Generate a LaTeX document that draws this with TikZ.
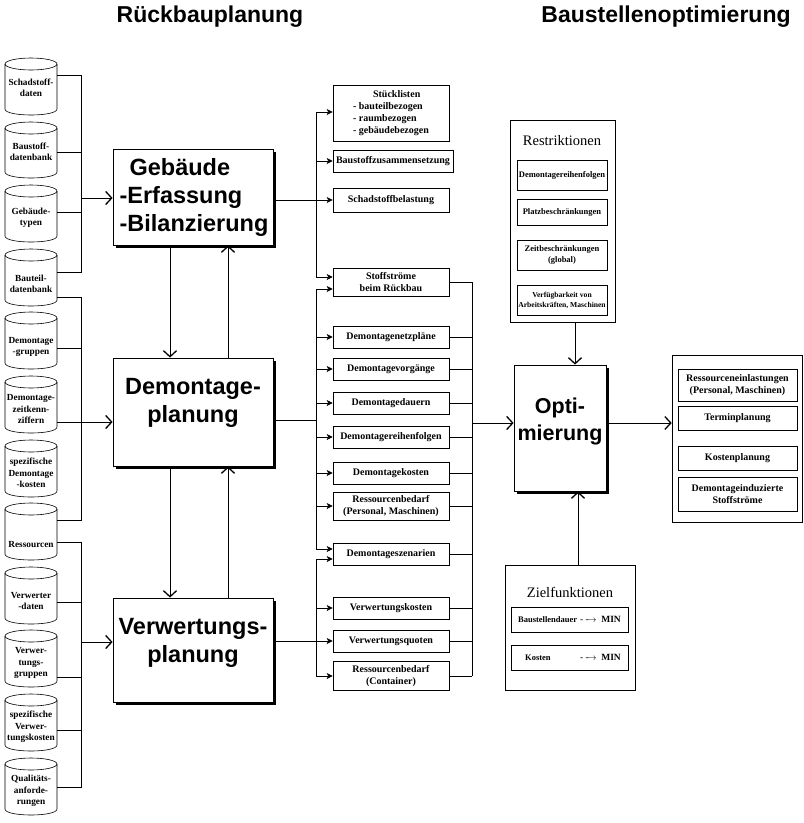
\documentclass[tikz,border=0pt]{standalone}
\usepackage{fontspec}
\setmainfont{Liberation Serif}
\newfontfamily\arialf{Liberation Sans}
\usetikzlibrary{arrows.meta,shadows}
\newcommand\dbcyl[5]{%
  \draw[cylst] (5,#2+6) -- (5,#3-6) .. controls (5,#3+2) and (57,#3+2) .. (57,#3-6) -- (57,#2+6);
  \draw[cylst] (31,#2+6) ellipse [x radius=26, y radius=6];
  \node[cyltext] (#1) at (31,#5) {#4};
}
\begin{document}
\begin{tikzpicture}[x=1pt,y=-1pt,
  ln/.style={line width=0.6pt},
  cylst/.style={line width=0.6pt},
  big/.style={line width=0.6pt,-{Straight Barb[length=6pt,width=13pt,line width=1.3pt]}},
  sm/.style={line width=0.6pt,-{Stealth[length=6pt,width=6pt,inset=1.5pt]}},
  title/.style={font=\arialf\bfseries\fontsize{23}{26}\selectfont},
  mainbox/.style={draw,fill=white,line width=0.8pt,drop shadow={shadow xshift=3pt,shadow yshift=-3pt,fill=black,opacity=1}},
  maintext/.style={font=\arialf\bfseries\fontsize{23.5}{28}\selectfont,inner sep=0pt,align=center},
  cyltext/.style={minimum width=52pt,inner sep=0pt,align=center,font=\bfseries\fontsize{9.3}{11.5}\selectfont},
  midbox/.style={draw,line width=0.6pt,fill=white,minimum width=116pt,minimum height=22pt,inner sep=1pt,align=center,font=\bfseries\fontsize{10}{12}\selectfont},
  outbox/.style={draw,line width=0.6pt},
  grouptitle/.style={font=\fontsize{14.5}{16}\selectfont},
  rbox/.style={draw,line width=0.6pt,minimum width=90pt,inner sep=1pt,align=center,font=\bfseries\fontsize{8.5}{10.5}\selectfont},
  zbox/.style={draw,line width=0.6pt,minimum width=117pt,minimum height=25pt,inner sep=1pt,align=left},
  obox/.style={draw,line width=0.6pt,minimum width=119pt,inner sep=1pt,align=center,font=\bfseries\fontsize{10}{12}\selectfont}
]
\useasboundingbox (0,0) rectangle (804,823);
\fill[white] (0,0) rectangle (804,823);

% titles
\node[title] (t1) at (210,17) {Rückbauplanung};
\node[title] (t2) at (666,17) {Baustellenoptimierung};

% cylinders
\dbcyl{c1}{58}{115}{Schadstoff-\\daten}{88}
\dbcyl{c2}{122}{178}{Baustoff-\\datenbank}{152}
\dbcyl{c3}{185}{242}{Gebäude-\\typen}{218}
\dbcyl{c4}{249}{306}{Bauteil-\\datenbank}{284}
\dbcyl{c5}{312}{369}{Demontage\\-gruppen}{347}
\dbcyl{c6}{376}{433}{Demontage-\\zeitkenn-\\ziffern}{409}
\dbcyl{c7}{440}{497}{spezifische\\Demontage\\-kosten}{473}
\dbcyl{c8}{503}{560}{Ressourcen}{545}
\dbcyl{c9}{567}{624}{Verwerter\\-daten}{601}
\dbcyl{c10}{630}{687}{Verwer-\\tungs-\\gruppen}{663}
\dbcyl{c11}{694}{751}{spezifische\\Verwer-\\tungskosten}{727}
\dbcyl{c12}{758}{815}{Qualitäts-\\anforde-\\rungen}{791}

% main boxes
\node[mainbox,minimum width=160pt,minimum height=96pt] (geb) at (193,197) {};
\node[maintext,align=left] (gebt) at (194,197) {\hspace*{10pt}Gebäude\\-Erfassung\\-Bilanzierung};
\node[mainbox,minimum width=160pt,minimum height=108pt] (dem) at (193,412) {};
\node[maintext] (demt) at (193,403) {Demontage-\\planung};
\node[mainbox,minimum width=160pt,minimum height=104pt] (ver) at (193,650) {};
\node[maintext] (vert) at (193,643) {Verwertungs-\\planung};

% left buses
\coordinate (g1a) at (81,75);
\coordinate (g1b) at (81,152);
\coordinate (g1x) at (81,198);
\coordinate (g1c) at (81,212);
\coordinate (g1d) at (81,272);
\draw[ln] (c1.east|-g1a) -- (g1a) -- (g1d) -- (c4.east|-g1d);
\draw[ln] (c2.east|-g1b) -- (g1b);
\draw[ln] (c3.east|-g1c) -- (g1c);
\draw[big] (g1x) -- (geb.west|-g1x);

\coordinate (g2a) at (81,297);
\coordinate (g2b) at (81,348);
\coordinate (g2x) at (81,422);
\coordinate (g2d) at (81,520);
\draw[ln] (c4.east|-g2a) -- (g2a) -- (g2d) -- (c8.east|-g2d);
\draw[ln] (c5.east|-g2b) -- (g2b);
\draw[big] (c6.east|-g2x) -- (dem.west|-g2x);

\coordinate (g3a) at (81,542);
\coordinate (g3b) at (81,602);
\coordinate (g3x) at (81,642);
\coordinate (g3c) at (81,677);
\coordinate (g3d) at (81,730);
\coordinate (g3e) at (81,787);
\draw[ln] (c8.east|-g3a) -- (g3a) -- (g3e) -- (c12.east|-g3e);
\draw[ln] (c9.east|-g3b) -- (g3b);
\draw[ln] (c10.east|-g3c) -- (g3c);
\draw[ln] (c11.east|-g3d) -- (g3d);
\draw[big] (g3x) -- (ver.west|-g3x);

% vertical arrows between main boxes
\coordinate (vx1) at (170,0);
\coordinate (vx2) at (228,0);
\draw[big] (geb.south-|vx1) -- (dem.north-|vx1);
\draw[big] (dem.north-|vx2) -- (geb.south-|vx2);
\draw[big] (dem.south-|vx1) -- (ver.north-|vx1);
\draw[big] (ver.north-|vx2) -- (dem.south-|vx2);

% middle result boxes
\node[midbox,minimum height=56pt,align=left] (stk) at (391,113) {\hspace*{20pt}Stücklisten\\- bauteilbezogen\\- raumbezogen\\- gebäudebezogen};
\node[midbox,minimum width=120pt] (bsz) at (393,161) {Baustoffzusammensetzung};
\node[midbox,minimum height=24pt] (sdb) at (391,200) {Schadstoffbelastung};
\node[midbox,minimum height=28pt] (sts) at (391,282) {Stoffströme\\beim Rückbau};
\node[midbox] (dnp) at (391,337) {Demontagenetzpläne};
\node[midbox] (dvg) at (391,369) {Demontagevorgänge};
\node[midbox] (ddn) at (391,403) {Demontagedauern};
\node[midbox] (drf) at (391,437) {Demontagereihenfolgen};
\node[midbox] (dko) at (391,473) {Demontagekosten};
\node[midbox,minimum height=28pt] (rbp) at (391,506) {Ressourcenbedarf\\(Personal, Maschinen)};
\node[midbox] (dsz) at (391,554) {Demontageszenarien};
\node[midbox] (vko) at (391,608) {Verwertungskosten};
\node[midbox] (vqu) at (391,641) {Verwertungsquoten};
\node[midbox,minimum height=29pt] (rbc) at (391,676) {Ressourcenbedarf\\(Container)};

% group A
\coordinate (pA1) at (316,112);
\coordinate (pA4) at (316,277);
\draw[ln] (pA1) -- (pA4);
\draw[sm] (pA1) -- (stk.west|-pA1);
\draw[sm] (pA1|-bsz.west) -- (bsz.west);
\draw[sm] (geb.east|-sdb.west) -- (sdb.west);
\draw[sm] (pA4) -- (sts.west|-pA4);

% group B
\coordinate (pB1) at (316,289);
\coordinate (pBx) at (316,420);
\coordinate (pB2) at (316,549);
\draw[ln] (dem.east|-pBx) -- (pBx);
\draw[ln] (pB1) -- (pB2);
\draw[sm] (pB1) -- (sts.west|-pB1);
\foreach \b in {dnp,dvg,ddn,drf,dko,rbp} {\draw[sm] (pB1|-\b.west) -- (\b.west);}
\draw[sm] (pB2) -- (dsz.west|-pB2);

% group C
\coordinate (pC1) at (316,559);
\coordinate (pC2) at (316,676);
\draw[ln] (pC1) -- (pC2);
\draw[sm] (pC1) -- (dsz.west|-pC1);
\draw[sm] (pC1|-vko.west) -- (vko.west);
\draw[sm] (ver.east|-vqu.west) -- (vqu.west);
\draw[sm] (pC1|-rbc.west) -- (rbc.west);

% right bus
\coordinate (q1) at (472,0);
\coordinate (qx) at (472,423);
\foreach \b in {sts,dnp,dvg,ddn,drf,dko,rbp,dsz,vko,vqu,rbc} {\draw[ln] (\b.east) -- (\b.east-|q1);}
\draw[ln] (sts.east-|q1) -- (rbc.east-|q1);

% Optimierung
\node[mainbox,minimum width=92pt,minimum height=126pt] (opt) at (560,428) {};
\node[maintext,font=\arialf\bfseries\fontsize{21.5}{27}\selectfont] (optt) at (560,421) {Opti-\\mierung};
\draw[big] (qx) -- (opt.west|-qx);

% Restriktionen
\node[outbox,minimum width=105pt,minimum height=202pt] (restr) at (562.5,221) {};
\node[grouptitle] (restrt) at (562,141) {Restriktionen};
\node[rbox,minimum height=30pt] (r1) at (562,175) {Demontagereihenfolgen};
\node[rbox,minimum height=26pt] (r2) at (562,212) {Platzbeschränkungen};
\node[rbox,minimum height=30pt] (r3) at (562,255) {Zeitbeschränkungen\\(global)};
\node[rbox,minimum height=30pt,font=\bfseries\fontsize{7.6}{10}\selectfont] (r4) at (562,300) {Verfügbarkeit von\\Arbeitskräften, Maschinen};
\coordinate (ax) at (575,0);
\draw[big] (restr.south-|ax) -- (opt.north-|ax);

% Zielfunktionen
\node[outbox,minimum width=130pt,minimum height=125pt] (ziel) at (570,627.5) {};
\node[grouptitle] (zielt) at (570,592) {Zielfunktionen};
\node[zbox] (z1) at (569.5,619.5) {\makebox[62pt][l]{\bfseries\fontsize{8.5}{10}\selectfont Baustellendauer}{\fontsize{9.5}{10}\selectfont - -$\!\rightarrow$\ \ \textbf{MIN}}};
\node[zbox] (z2) at (569.5,657.5) {\makebox[62pt][l]{\hspace*{7pt}\bfseries\fontsize{8.5}{10}\selectfont Kosten}{\fontsize{9.5}{10}\selectfont - -$\!\rightarrow$\ \ \textbf{MIN}}};
\coordinate (az) at (578,0);
\draw[big] (ziel.north-|az) -- (opt.south-|az);

% results
\node[outbox,minimum width=130pt,minimum height=167pt] (res) at (737,438.5) {};
\node[obox,minimum height=32pt] (o1) at (737.5,385) {Ressourceneinlastungen\\(Personal, Maschinen)};
\node[obox,minimum height=24pt] (o2) at (737.5,418) {Terminplanung};
\node[obox,minimum height=24pt] (o3) at (737.5,458) {Kostenplanung};
\node[obox,minimum height=34pt] (o4) at (737.5,494) {Demontageinduzierte\\Stoffströme};
\draw[big] (opt.east|-qx) -- (res.west|-qx);
\end{tikzpicture}
\end{document}
